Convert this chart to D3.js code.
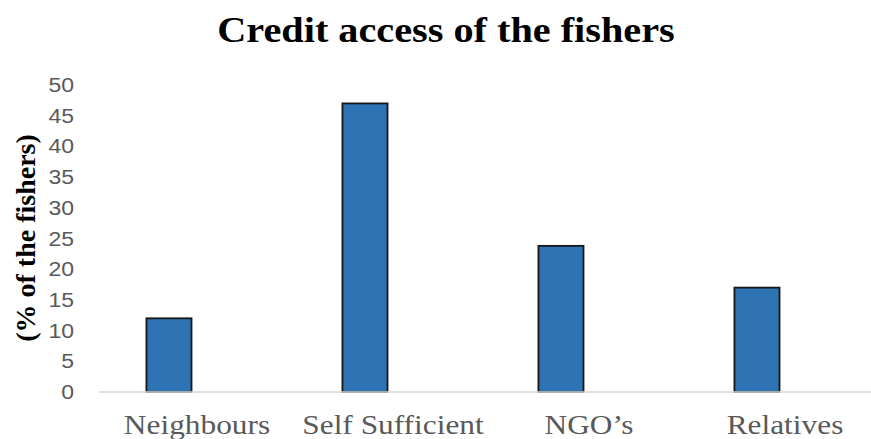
<!DOCTYPE html>
<html>
  <head>
    <meta charset="UTF-8">
    <title>credit access</title>
    <style>
      body { margin: 0; background: #fff; }
    </style>
    <script src="https://d3js.org/d3.v7.min.js"></script>
  </head>
  <body>
    <div id="chart"></div>
    <script>
      var categories = ["Neighbours", "Self Sufficient", "NGO\u2019s", "Relatives"];
      var values = [12, 47, 23.8, 17];
      var yTicks = [0, 5, 10, 15, 20, 25, 30, 35, 40, 45, 50];

      var width = 871, height = 439;
      var serif = "'Liberation Serif', 'Times New Roman', serif";
      var sans = "'Liberation Sans', Arial, sans-serif";
      var stretch = 1.18; // source picture is a bit wider than tall

      var svg = d3.select("#chart").append("svg")
        .attr("width", width)
        .attr("height", height);

      var x = d3.scaleBand().domain(categories).range([99, 883]);
      var y = d3.scaleLinear().domain([0, 50]).range([392, 85]);

      // bars sit on the left of each category slot (empty second series)
      var barOffset = 0.242, barWidth = 0.23;

      svg.append("g").selectAll("rect")
          .data(values)
        .enter().append("rect")
          .attr("x", function(d, i) { return x(categories[i]) + x.bandwidth() * barOffset; })
          .attr("width", x.bandwidth() * barWidth)
          .attr("y", function(d) { return y(d); })
          .attr("height", function(d) { return y(0) - y(d); })
          .style("fill", "#2E74B5")
          .style("stroke", "#161616")
          .style("stroke-width", 1.8);

      // baseline
      svg.append("line")
        .attr("x1", 99).attr("x2", width)
        .attr("y1", y(0)).attr("y2", y(0))
        .style("stroke", "#d9d9d9")
        .style("stroke-width", 1.5);

      // y tick labels
      svg.append("g").selectAll("text")
          .data(yTicks)
        .enter().append("text")
          .attr("transform", function(d) { return "translate(74," + y(d) + ") scale(" + stretch + ",1)"; })
          .attr("dy", "0.36em")
          .style("text-anchor", "end")
          .style("font-family", sans)
          .style("font-size", "19.5px")
          .style("fill", "#595959")
          .text(function(d) { return d; });

      // category labels
      svg.append("g").selectAll("text")
          .data(categories)
        .enter().append("text")
          .attr("transform", function(d) { return "translate(" + (x(d) + x.bandwidth() / 2) + ",434) scale(1.12,1)"; })
          .style("text-anchor", "middle")
          .style("font-family", serif)
          .style("font-size", "28px")
          .style("fill", "#595959")
          .text(function(d) { return d; });

      // title
      svg.append("text")
        .attr("transform", "translate(446,42) scale(1.15,1)")
        .style("text-anchor", "middle")
        .style("font-family", serif)
        .style("font-weight", "bold")
        .style("font-size", "35px")
        .text("Credit access of the fishers");

      // y axis label
      svg.append("text")
        .attr("transform", "translate(35,238) rotate(-90)")
        .style("text-anchor", "middle")
        .style("font-family", serif)
        .style("font-weight", "bold")
        .style("font-size", "28px")
        .text("(% of the fishers)");
    </script>
  </body>
</html>
